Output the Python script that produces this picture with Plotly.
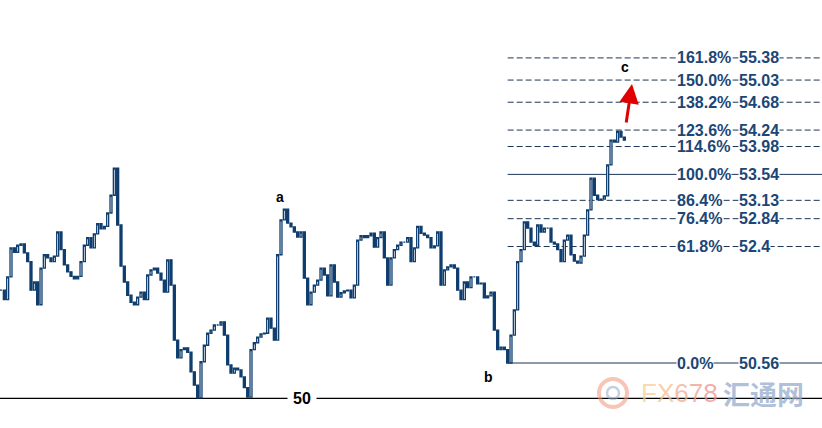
import plotly.graph_objects as go

# ---- data ----
closes = [
    51.71, 51.56, 51.92, 52.38, 52.31, 52.42, 52.44, 52.30, 52.16, 51.71,
    51.84, 51.48, 52.06, 52.27, 52.22, 52.16, 52.25, 52.63, 52.35, 52.11,
    52.00, 51.93, 51.89, 51.93, 52.16, 52.42, 52.54, 52.38, 52.60, 52.76,
    52.68, 52.72, 52.93, 53.21, 53.64, 52.74, 52.09, 51.84, 51.63, 51.52,
    51.48, 51.60, 51.68, 51.56, 51.95, 52.03, 52.06, 51.98, 51.87, 51.68,
    52.19, 51.79, 50.92, 50.64, 50.77, 50.80, 50.73, 50.42, 50.21, 50.01,
    50.58, 50.84, 51.03, 51.08, 51.16, 51.16, 51.21, 51.00, 50.53, 50.40,
    50.48, 50.45, 50.34, 50.17, 50.02, 50.77, 50.88, 50.97, 51.02, 51.03,
    51.27, 51.11, 50.92, 52.27, 52.82, 52.99, 52.77, 52.71, 52.63, 52.55,
    52.63, 51.90, 51.48, 51.68, 51.79, 51.87, 52.06, 51.95, 51.62, 52.11,
    51.84, 51.60, 51.67, 51.70, 51.71, 51.59, 51.79, 52.50, 52.57, 52.54,
    52.57, 52.61, 52.39, 52.54, 52.63, 52.22, 51.79, 52.22, 52.35, 52.42,
    52.47, 52.47, 52.54, 52.16, 52.38, 52.72, 52.61, 52.58, 52.54, 52.38,
    52.41, 52.63, 51.79, 52.03, 52.08, 52.11, 52.06, 51.71, 51.56, 51.84,
    51.75, 51.92, 51.92, 51.81, 51.82, 51.59, 51.62, 51.68, 51.08, 50.77,
    50.81, 50.77, 50.56, 51.00, 51.40, 52.16, 52.35, 52.79, 52.69, 52.47,
    52.42, 52.74, 52.63, 52.69, 52.69, 52.47, 52.44, 52.35, 52.16, 52.50,
    52.58, 52.27, 52.17, 52.14, 52.25, 52.58, 52.98, 53.48, 53.21, 53.14,
    53.15, 53.20, 53.69, 54.08, 54.05, 54.22, 54.13, 54.08,
]

fib_pcts = ["161.8%", "150.0%", "138.2%", "123.6%", "114.6%",
            "100.0%", "86.4%", "76.4%", "61.8%", "0.0%"]
fib_vals = [55.38, 55.03, 54.68, 54.24, 53.98, 53.54, 53.13, 52.84, 52.4, 50.56]
fib_solid = ["100.0%", "0.0%"]

base_level = 50
wave_labels = ["a", "b", "c"]

# ---- build ----
idx = list(range(len(closes)))
opens = [closes[0]] + closes[:-1]
highs = [max(o, c) for o, c in zip(opens, closes)]
lows = [min(o, c) for o, c in zip(opens, closes)]
b_index = closes.index(min(closes[140:]), 140)

NAVY = "#0f3d6e"
TXT = "#1b4676"

fig = go.Figure()
fig.add_trace(go.Candlestick(
    x=idx, open=opens, high=highs, low=lows, close=closes,
    increasing=dict(line=dict(color=NAVY, width=1.3), fillcolor="white"),
    decreasing=dict(line=dict(color=NAVY, width=1.3), fillcolor=NAVY),
    whiskerwidth=0, showlegend=False, hoverinfo="skip",
))

W, H = 822, 428
xr = [-0.3, 246.3]
yr = [49.533, 56.295]

shapes = []
annotations = []
FONT = "Liberation Sans, Arial"
for p, v in zip(fib_pcts, fib_vals):
    solid = p in fib_solid
    shapes.append(dict(type="line", xref="x", yref="y",
                       x0=b_index, x1=xr[1], y0=v, y1=v,
                       line=dict(color="#1c3556", width=1,
                                 dash="solid" if solid else "6px,3px"),
                       layer="below"))
    annotations.append(dict(xref="paper", yref="y", x=676 / W, y=v,
                            xanchor="left", yanchor="middle", text=p,
                            showarrow=False, bgcolor="white", borderpad=0,
                            font=dict(family=FONT, size=16,
                                      color=TXT, weight="bold")))
    annotations.append(dict(xref="paper", yref="y", x=738 / W, y=v,
                            xanchor="left", yanchor="middle", text=str(v),
                            showarrow=False, bgcolor="white", borderpad=0,
                            font=dict(family=FONT, size=16,
                                      color=TXT, weight="bold")))

# base line at 50
shapes.append(dict(type="line", xref="paper", yref="y", x0=0, x1=1,
                   y0=base_level, y1=base_level,
                   line=dict(color="black", width=1.3), layer="below"))
annotations.append(dict(xref="paper", yref="y", x=302 / W, y=base_level,
                        xanchor="center", yanchor="middle", text=str(base_level),
                        showarrow=False, bgcolor="white", borderpad=5,
                        font=dict(family=FONT, size=16,
                                  color="black", weight="bold")))

# wave labels
for t, (px, py) in zip(wave_labels, [(280, 197), (488, 377), (625, 67)]):
    annotations.append(dict(xref="paper", yref="paper", x=px / W, y=1 - py / H,
                            xanchor="center", yanchor="middle", text=t,
                            showarrow=False,
                            font=dict(family=FONT, size=14,
                                      color="black", weight="bold")))

# red arrow
annotations.append(dict(xref="paper", yref="paper", x=632 / W, y=1 - 84 / H,
                        ax=-6, ay=40, text="", showarrow=True,
                        arrowhead=2, arrowsize=1.3, arrowwidth=3,
                        arrowcolor="#e00000", standoff=0))

# watermark
shapes.append(dict(type="circle", xref="paper", yref="paper",
                   x0=599 / W, x1=627 / W, y0=1 - 407 / H, y1=1 - 379 / H,
                   line=dict(color="rgba(240,150,120,0.55)", width=4),
                   layer="above"))
shapes.append(dict(type="circle", xref="paper", yref="paper",
                   x0=607 / W, x1=619 / W, y0=1 - 399 / H, y1=1 - 387 / H,
                   line=dict(color="rgba(150,170,200,0.55)", width=2.5),
                   layer="above"))
annotations.append(dict(xref="paper", yref="paper", x=639 / W, y=1 - 393 / H,
                        xanchor="left", yanchor="middle",
                        text=("<span style='color:rgba(250,205,150,0.75)'>F</span>"
                              "<span style='color:rgba(248,190,145,0.75)'>X</span>"
                              "<span style='color:rgba(245,170,140,0.75)'>6</span>"
                              "<span style='color:rgba(243,155,140,0.75)'>7</span>"
                              "<span style='color:rgba(240,145,140,0.75)'>8</span>"),
                        showarrow=False,
                        font=dict(family="Liberation Sans", size=26)))
annotations.append(dict(xref="paper", yref="paper", x=763 / W, y=1 - 393 / H,
                        xanchor="center", yanchor="middle", text="汇通网",
                        showarrow=False,
                        font=dict(family="Noto Sans CJK SC", size=27,
                                  color="rgba(150,172,205,0.75)", weight="bold")))

fig.update_layout(
    width=W, height=H, margin=dict(l=0, r=0, t=0, b=0),
    paper_bgcolor="white", plot_bgcolor="white",
    boxgap=0.15,
    xaxis=dict(range=xr, visible=False, rangeslider=dict(visible=False),
               fixedrange=True),
    yaxis=dict(range=yr, visible=False, fixedrange=True),
    shapes=shapes, annotations=annotations, showlegend=False,
)
fig.write_html("out.html", config={"displayModeBar": False},
               post_script="document.body.style.margin='0';document.body.style.overflow='hidden';")
